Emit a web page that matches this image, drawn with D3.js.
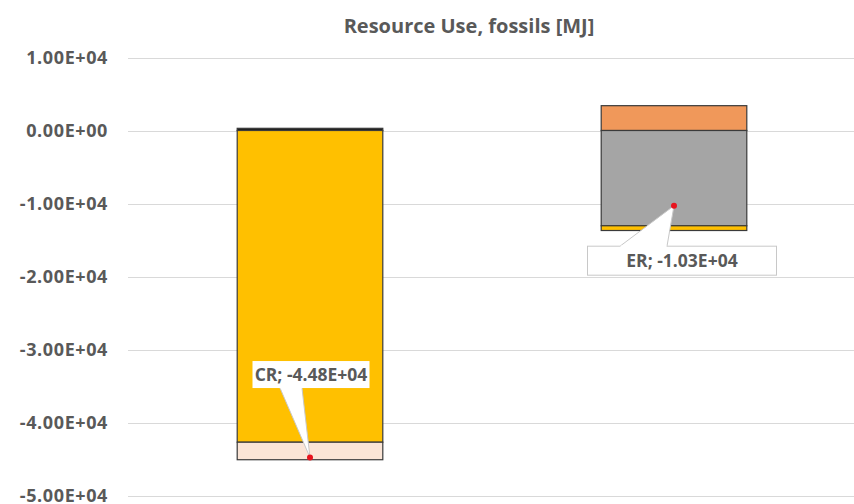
<!DOCTYPE html>
<html>
<head>
<meta charset="utf-8">
<script src="https://cdn.jsdelivr.net/npm/d3@7"></script>
<style>
  body { margin: 0; background: #fff; }
  svg { display: block; }
</style>
</head>
<body>
<div id="chart"></div>
<script>
// categories and stacked series values (MJ)
var categories = ["CR", "ER"];
var seriesKeys = ["s1", "s2", "s3", "s4", "s5"];
var s1 = [300, 0];        // dark top cap
var s2 = [0, 3400];       // orange
var s3 = [0, -13050];     // grey
var s4 = [-42700, -650];  // yellow
var s5 = [-2400, 0];      // light peach
var yTicks = [10000, 0, -10000, -20000, -30000, -40000, -50000];

var colors = { s1: "#1f1f1f", s2: "#f0985a", s3: "#a5a5a5", s4: "#ffc000", s5: "#fbe5d6" };

var w = 854, h = 504;

var rows = categories.map(function(c, i) {
    return { cat: c, s1: s1[i], s2: s2[i], s3: s3[i], s4: s4[i], s5: s5[i] };
});
rows.forEach(function(r) {
    r.total = d3.sum(seriesKeys, function(k) { return r[k]; });
});

// Excel-like scientific label, e.g. -4.48E+04
function sci(v) {
    if (v === 0) return "0.00E+00";
    var e = Math.floor(Math.log10(Math.abs(v)));
    var m = v / Math.pow(10, e);
    var es = (e < 0 ? "-" : "+") + (Math.abs(e) < 10 ? "0" : "") + Math.abs(e);
    return m.toFixed(2) + "E" + es;
}

var svg = d3.select("#chart").append("svg")
    .attr("width", w)
    .attr("height", h);

var x = d3.scaleBand()
    .domain(categories)
    .range([128, 856]);
var barW = x.bandwidth() * 0.4;

var y = d3.scaleLinear()
    .domain([-50000, 10000])
    .range([495.5, 57.5]);

// gridlines
svg.append("g").selectAll("line")
    .data(yTicks)
    .enter().append("line")
    .attr("x1", 128).attr("x2", w)
    .attr("y1", function(d) { return Math.round(y(d)) + 0.5; })
    .attr("y2", function(d) { return Math.round(y(d)) + 0.5; })
    .attr("stroke", "#d9d9d9")
    .attr("stroke-width", 1);

// tick labels
svg.append("g").selectAll("text")
    .data(yTicks)
    .enter().append("text")
    .attr("x", 108)
    .attr("y", function(d) { return y(d); })
    .attr("dy", "0.34em")
    .attr("text-anchor", "end")
    .style("font-family", "'Open Sans', sans-serif")
    .style("font-weight", 700)
    .style("font-size", "18px")
    .style("letter-spacing", "0.6px")
    .style("fill", "#595959")
    .text(sci);

// title
svg.append("text")
    .attr("x", 469)
    .attr("y", 33)
    .attr("text-anchor", "middle")
    .style("font-family", "'Open Sans', sans-serif")
    .style("font-weight", 700)
    .style("font-size", "20px")
    .style("fill", "#595959")
    .text("Resource Use, fossils [MJ]");

// stacked bars
var stack = d3.stack()
    .keys(seriesKeys)
    .offset(d3.stackOffsetDiverging);
var layers = stack(rows);

svg.append("g").selectAll("g")
    .data(layers)
    .enter().append("g")
    .attr("fill", function(d) { return colors[d.key]; })
    .selectAll("rect")
    .data(function(d) { return d.filter(function(p) { return p[0] !== p[1]; }); })
    .enter().append("rect")
    .attr("x", function(d) { return x(d.data.cat) + (x.bandwidth() - barW) / 2; })
    .attr("y", function(d) { return y(Math.max(d[0], d[1])); })
    .attr("width", barW)
    .attr("height", function(d) { return Math.abs(y(d[0]) - y(d[1])); })
    .attr("stroke", "#3a3a3a")
    .attr("stroke-width", 1.2);

// callouts for totals
var callouts = [
    { cat: "CR", dx: 1, dy: -83, bw: 117, bh: 27, p1: -30, p2: -8, border: false },
    { cat: "ER", dx: 8, dy: 55, bw: 189, bh: 29, p1: -54, p2: -7, border: true }
];

var cg = svg.append("g");
callouts.forEach(function(c) {
    var r = rows.find(function(d) { return d.cat === c.cat; });
    var px = x(r.cat) + x.bandwidth() / 2;
    var py = y(r.total);
    var bx = px + c.dx - c.bw / 2;
    var by = py + c.dy - c.bh / 2;
    var edgeY = c.dy < 0 ? by + c.bh : by;

    cg.append("rect")
        .attr("x", bx).attr("y", by)
        .attr("width", c.bw).attr("height", c.bh)
        .attr("fill", "#fff")
        .attr("stroke", c.border ? "#c8c8c8" : "none")
        .attr("stroke-width", 1);

    cg.append("path")
        .attr("d", "M" + (px + c.p1) + "," + edgeY + "L" + px + "," + py + "L" + (px + c.p2) + "," + edgeY)
        .attr("fill", "#fff")
        .attr("stroke", "#c8c8c8")
        .attr("stroke-width", 1);
    // cover edge line where wedge meets box
    cg.append("line")
        .attr("x1", px + c.p1 + 0.5).attr("x2", px + c.p2 - 0.5)
        .attr("y1", edgeY).attr("y2", edgeY)
        .attr("stroke", "#fff").attr("stroke-width", 1.5);

    cg.append("text")
        .attr("x", bx + c.bw / 2)
        .attr("y", by + c.bh / 2)
        .attr("dy", "0.36em")
        .attr("text-anchor", "middle")
        .style("font-family", "'Open Sans', sans-serif")
        .style("font-weight", 700)
        .style("font-size", "17.5px")
        .style("fill", "#595959")
        .text(r.cat + "; " + sci(r.total));

    cg.append("circle")
        .attr("cx", px).attr("cy", py)
        .attr("r", 3)
        .attr("fill", "#e8141e");
});
</script>
</body>
</html>
